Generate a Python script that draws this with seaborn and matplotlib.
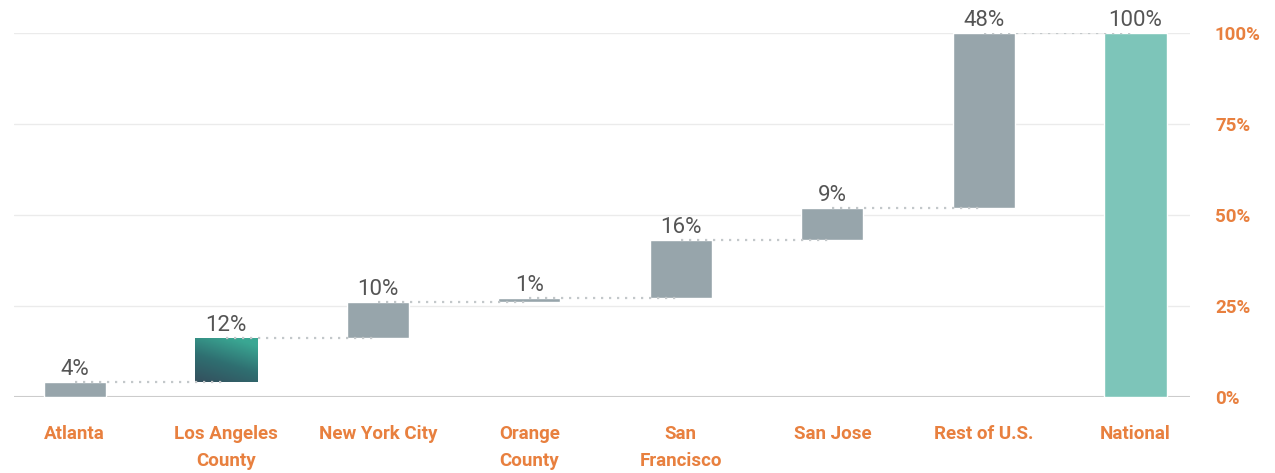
import numpy as np
import pandas as pd
import matplotlib
matplotlib.use("Agg")
import matplotlib.pyplot as plt
import seaborn as sns
from matplotlib.colors import LinearSegmentedColormap

categories = ["Atlanta", "Los Angeles\nCounty", "New York City", "Orange\nCounty",
              "San\nFrancisco", "San Jose", "Rest of U.S.", "National"]
changes = [4.1, 12.1, 9.9, 1.1, 15.9, 8.8, 48.1, 100.0]
is_total = [False, False, False, False, False, False, False, True]
ytick_values = [0, 25, 50, 75, 100]
ytick_labels = ["0%", "25%", "50%", "75%", "100%"]

# waterfall bases
bases = []
run = 0.0
for c, t in zip(changes, is_total):
    if t:
        bases.append(0.0)
    else:
        bases.append(run)
        run += c
tops = [b + c for b, c in zip(bases, changes)]

df = pd.DataFrame({"category": categories, "change": changes, "base": bases})

sns.set_theme(style="white")
plt.rcParams["font.family"] = ["Roboto", "DejaVu Sans"]

fig = plt.figure(figsize=(12.75, 4.73), dpi=100)
ax = fig.add_axes([14 / 1275, 1 - 397 / 473, (1190 - 14) / 1275, (397 - 33) / 473])

gray = "#97a5ab"
teal = "#7dc5b9"
sns.barplot(data=df, x="category", y="change", order=categories, bottom=df["base"].values,
            color=gray, width=0.41, saturation=1, ax=ax, zorder=2)

patches = ax.patches
patches[-1].set_facecolor(teal)
# gradient for Los Angeles County
la = patches[1]
la.set_facecolor("none")
x0, y0 = la.get_x(), la.get_y()
w, h = la.get_width(), la.get_height()
cmap = LinearSegmentedColormap.from_list("la", ["#344f5d", "#2f6f71", "#3aa793"])
gx, gy = np.meshgrid(np.linspace(0, 1, 100), np.linspace(0, 1, 100))
grad = np.clip(0.8 * gy + 0.35 * gx, 0, 1)
im = ax.imshow(grad, extent=[x0, x0 + w, y0, y0 + h], origin="lower", cmap=cmap,
               aspect="auto", zorder=2, interpolation="bilinear")
im.set_clip_path(la)

# connectors
for i in range(len(categories) - 1):
    ax.plot([i, i + 1], [tops[i], tops[i]], color="#c3c8ca", lw=1.6,
            linestyle=(0, (1, 2.6)), zorder=3, solid_capstyle="round")

# value labels
for i, (c, t) in enumerate(zip(changes, tops)):
    ax.annotate(f"{round(c):d}%", (i, t), xytext=(0, 1.5), textcoords="offset points",
                ha="center", va="bottom", fontsize=16, color="#555555", zorder=4)

ax.set_xlim(-0.4, 7.36)
ax.set_ylim(0, 100)
ax.set_yticks(ytick_values)
ax.set_yticklabels(ytick_labels)
ax.yaxis.tick_right()
for y in ytick_values[1:]:
    ax.axhline(y, color="#ebebeb", lw=1, zorder=0)
ax.axhline(0, color="#cccccc", lw=1.5, zorder=1)
for s in ax.spines.values():
    s.set_visible(False)
ax.tick_params(axis="y", length=0, pad=18, labelsize=13.5, labelcolor="#e8803f")
ax.tick_params(axis="x", length=0, pad=20, labelsize=13.5, labelcolor="#e8803f")
for lab in ax.get_yticklabels() + ax.get_xticklabels():
    lab.set_fontweight("bold")
for lab in ax.get_xticklabels():
    lab.set_linespacing(1.65)
    lab.set_va("top")
ax.set_xlabel("")
ax.set_ylabel("")
ax.grid(False)

fig.savefig("out.png", dpi=100)
